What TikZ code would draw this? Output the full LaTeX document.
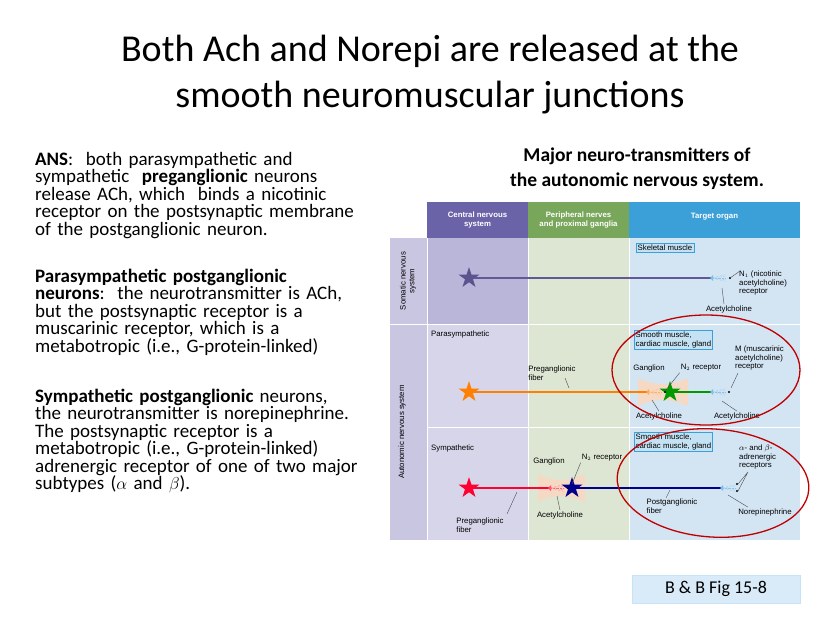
\documentclass[tikz,border=0pt]{standalone}
\usepackage{fontspec}
\setmainfont{Carlito}
\newfontfamily\figfont{Liberation Sans}
\usetikzlibrary{positioning,shapes.geometric}

\definecolor{cnsHead}{HTML}{6B63A8}
\definecolor{pnsHead}{HTML}{78A65A}
\definecolor{tgtHead}{HTML}{3B9FD8}
\definecolor{cnsBg}{HTML}{D7D5EA}
\definecolor{somBg}{HTML}{B9B6DA}
\definecolor{pnsBg}{HTML}{DDE6D2}
\definecolor{tgtBg}{HTML}{D3E4F3}
\definecolor{sideBg}{HTML}{C9C6E2}
\definecolor{figBox}{HTML}{C8E2F6}
\definecolor{gangBg}{HTML}{F6D9C4}

\tikzset{
  fig/.style={font=\figfont\fontsize{7.8}{8.6}\selectfont, align=left, inner sep=1pt},
  head/.style={font=\figfont\bfseries\fontsize{7.8}{8.6}\selectfont, text=white, align=center},
  organ/.style={fig, draw=tgtHead, fill=tgtHead!30, inner sep=1.5pt},
  lead/.style={black!70, line width=0.4pt},
  ring/.style={red!75!black, line width=1.3pt},
  para/.style={font=\fontsize{19}{17.5}\selectfont, align=left, text width=345pt, anchor=north west, inner sep=0pt},
}

\newcommand{\neuron}[2]{\node[star, star points=5, star point ratio=2.6, fill=#2, inner sep=0pt, minimum size=22pt] at (#1) {};}
\newcommand{\fan}[2]{%
  \fill[#2!70] ([xshift=-2pt]#1) -- ++(3pt,-3pt) -- ++(0,6pt) -- cycle;
  \foreach \a in {-14,-7,0,7,14} \draw[#2!60, densely dotted, line width=0.4pt] (#1) -- ++(\a:14pt);}

\begin{document}
\begin{tikzpicture}[x=1pt,y=-1pt]
\useasboundingbox (0,0) rectangle (828,632);
\fill[white] (0,0) rectangle (828,632);

% title
\node[font=\fontsize{38}{46}\selectfont, align=center] (title) at (430,75)
  {Both Ach and Norepi are released at the\\smooth neuromuscular junctions};

% left text
\node[para] (ans) at (35,152) {\textbf{ANS}:\ \ both parasympathetic and\\sympathetic\ \ \textbf{preganglionic} neurons\\release ACh, which\ \ binds a nicotinic\\receptor on the postsynaptic membrane\\of the postganglionic neuron.};
\node[para, below=30pt of ans.south west, anchor=north west] (psn) {\textbf{Parasympathetic postganglionic}\\\textbf{neurons}:\ \ the neurotransmitter is ACh,\\but the postsynaptic receptor is a\\muscarinic receptor, which is a\\metabotropic (i.e., G-protein-linked)};
\node[para, below=33pt of psn.south west, anchor=north west] (sym) {\textbf{Sympathetic postganglionic} neurons,\\the neurotransmitter is norepinephrine.\\The postsynaptic receptor is a\\metabotropic (i.e., G-protein-linked)\\adrenergic receptor of one of two major\\subtypes ($\alpha$ and $\beta$).};

% figure caption
\node[font=\bfseries\fontsize{19.5}{25}\selectfont, align=center] (cap) at (637,169)
  {Major neuro-transmitters of\\the autonomic nervous system.};

% panel backgrounds
\fill[cnsBg] (427,238) rectangle (528,540);
\fill[somBg] (427,238) rectangle (528,324);
\fill[pnsBg] (528,238) rectangle (629,540);
\fill[tgtBg] (629,238) rectangle (800,540);
\fill[sideBg] (390,238) rectangle (427,540);
\draw[white, line width=1pt] (390,324) -- (800,324) (427,427) -- (800,427)
  (427,238) -- (427,540) (528,238) -- (528,540) (629,238) -- (629,540);
\fill[cnsHead] (427,202) rectangle (528,238);
\fill[pnsHead] (528,202) rectangle (629,238);
\fill[tgtHead] (629,202) rectangle (800,238);
\node[head] at (477.5,220) {Central nervous\\system};
\node[head] at (578.5,220) {Peripheral nerves\\and proximal ganglia};
\node[head] at (714.5,217) {Target organ};
\node[fig, rotate=90, align=center] at (408,281) {Somatic nervous\\system};
\node[fig, rotate=90] at (402,432) {Autonomic nervous system};
\node[fig, anchor=west] at (430,334) {Parasympathetic};
\node[fig, anchor=west] at (430,448) {Sympathetic};

% somatic row
\node[organ, anchor=west] (skel) at (636,248) {Skeletal muscle};
\draw[cnsHead!90!black, line width=1.2pt] (469,278) -- (712,278);
\neuron{469,278}{cnsHead!85!black}
\fan{712,278}{tgtHead}
\fill (730,278) circle (1.2pt);
\node[fig, anchor=west] (nic) at (738,283) {N$_1$ (nicotinic\\acetylcholine)\\receptor};
\node[fig] (ach1) at (729,309) {Acetylcholine};
\draw[lead] (730,278) -- (740,271);
\draw[lead] (ach1.north) ++(-5,0) -- (722,288);

% parasympathetic row
\node[organ, anchor=west, align=left] (smooth1) at (634,340) {Smooth muscle,\\cardiac muscle, gland};
\fill[gangBg] (638,378) .. controls (655,386) and (670,386) .. (688,378)
  -- (688,406) .. controls (670,398) and (655,398) .. (638,406) -- cycle;
\draw[orange, line width=1.2pt] (469,392) -- (648,392);
\neuron{469,392}{orange}
\fan{648,392}{orange}
\draw[green!60!black, line width=1.2pt] (670,392) -- (712,392);
\neuron{670,392}{green!60!black}
\fill (665,392) circle (1.2pt);
\fan{712,392}{tgtHead}
\fill (729,392) circle (1.2pt);
\node[fig] (pre1) at (552,373) {Preganglionic\\fiber};
\draw[lead] (565,378) -- (569,388);
\node[fig] (gang1) at (649,368) {Ganglion};
\node[fig] (n2a) at (701,368) {N$_2$ receptor};
\node[fig, anchor=west] (musc) at (734,358) {M (muscarinic\\acetylcholine)\\receptor};
\draw[lead] (738,373) -- (731,388);
\node[fig] (ach2) at (659,416) {Acetylcholine};
\node[fig] (ach3) at (737,416) {Acetylcholine};
\draw[lead] (n2a.south west) -- (666,390);
\draw[lead] (ach2.north) -- (652,400);
\draw[lead] (ach3.north) -- (722,401);

% sympathetic row
\node[organ, anchor=west, align=left] (smooth2) at (634,442) {Smooth muscle,\\cardiac muscle, gland};
\fill[gangBg] (538,474) .. controls (553,482) and (568,482) .. (585,474)
  -- (585,502) .. controls (568,494) and (553,494) .. (538,502) -- cycle;
\draw[red!80!magenta, line width=1.2pt] (469,488) -- (550,488);
\neuron{469,488}{red!80!magenta}
\fan{550,488}{red!80!magenta}
\draw[blue!55!black, line width=1.2pt] (572,488) -- (722,488);
\neuron{572,488}{blue!55!black}
\fill (568,488) circle (1.2pt);
\fan{722,488}{tgtHead}
\fill (737,484) circle (1.2pt);
\fill (737,491) circle (1.2pt);
\node[fig] (gang2) at (549,461) {Ganglion};
\node[fig] (n2b) at (602,458) {N$_2$ receptor};
\node[fig, anchor=west] (adr) at (738,457) {$\alpha$- and $\beta$-\\adrenergic\\receptors};
\draw[lead] (748,472) -- (738,484) (748,472) -- (738,491);
\node[fig] (pre2) at (480,525) {Preganglionic\\fiber};
\draw[lead] (507,514) -- (517,492);
\node[fig] (ach4) at (560,515) {Acetylcholine};
\draw[lead] (ach4.north) -- (557,496);
\draw[lead] (n2b.south west) -- (572,484);
\node[fig] (post) at (672,506) {Postganglionic\\fiber};
\draw[lead] (666,498) -- (670,490);
\node[fig] (nor) at (765,512) {Norepinephrine};
\draw[lead] (nor.north) ++(-17,0) -- (728,495);

% highlight rings
\draw[ring] (706,370) ellipse [x radius=94, y radius=55];
\draw[ring, rotate around={-4:(713,483)}] (713,483) ellipse [x radius=96, y radius=54];

% source box
\node[draw=figBox, fill=figBox!70, minimum width=168pt, minimum height=28pt,
  font=\fontsize{18}{20}\selectfont] (src) at (716,589) {B \& B Fig 15-8};
\end{tikzpicture}
\end{document}
